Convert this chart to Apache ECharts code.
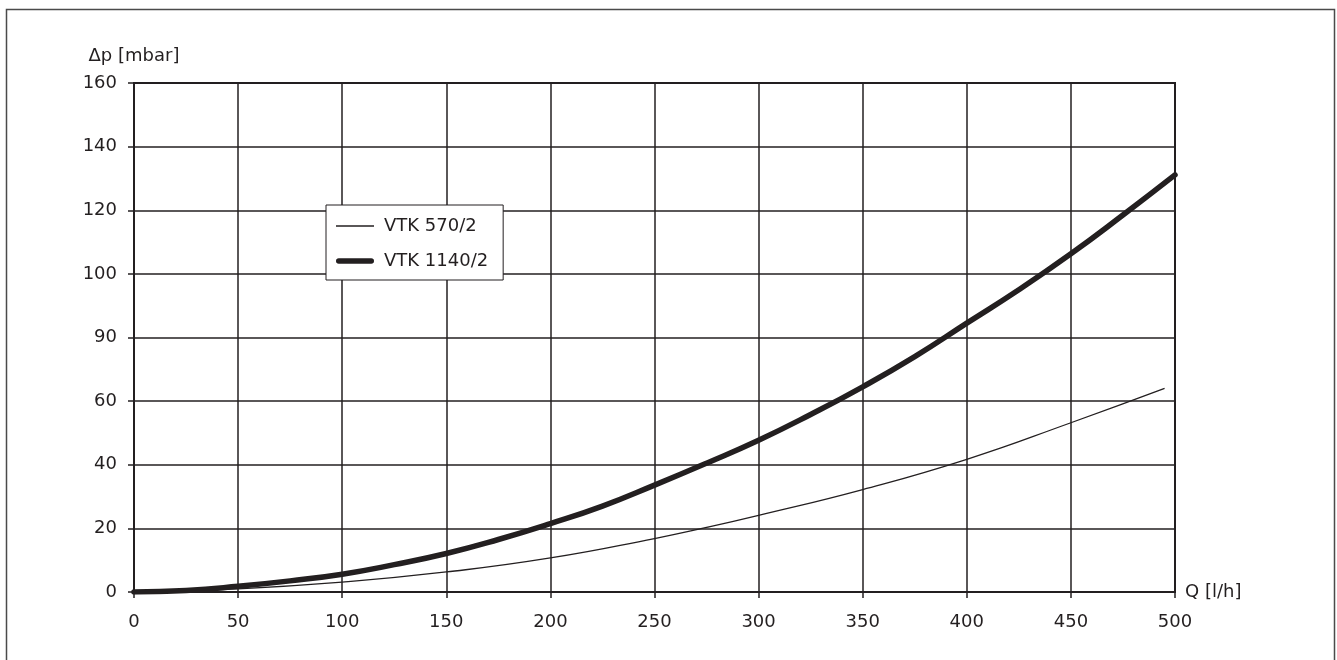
<!DOCTYPE html>
<html>
<head>
<meta charset="utf-8">
<style>
  html, body { margin: 0; padding: 0; background: #fff; }
  #chart { width: 1337px; height: 660px; }
</style>
<script src="https://cdn.jsdelivr.net/npm/echarts@6/dist/echarts.min.js"></script>
</head>
<body>
<div id="chart"></div>
<script>
// Flow rate Q [l/h] and pressure drop Δp [mbar] for the two models
const flowSmall = [0, 50, 100, 150, 200, 250, 275, 300, 350, 400, 450, 495];
const dpSmall   = [0, 1, 3.1, 6.3, 10.7, 16.8, 20.3, 24.1, 32.2, 41.7, 53.2, 64];

const flowLarge = [0, 25, 50, 75, 100, 125, 150, 175, 200, 225, 250, 275, 300, 325, 350, 375, 400, 425, 450, 475, 500];
const dpLarge   = [0, 0.5, 1.8, 3.5, 5.6, 8.6, 12.1, 16.5, 21.5, 27, 33.6, 40.5, 47.7, 55.8, 64.5, 74, 84.5, 95, 106.3, 118.5, 131.1];

const seriesNames = ['VTK 570/2', 'VTK 1140/2'];

// Printed labels of the pressure axis, one per 20-mbar step
const yTickLabels = ['0', '20', '40', '60', '90', '100', '120', '140', '160'];

const ink = '#231f20';
const font = 'DejaVu Sans';
const fs = 18;

const pairs = (xs, ys) => xs.map((x, i) => [x, ys[i]]);

// Legend keys: a hairline and a heavy rounded bar
const thinKey = 'path://M0 0H38V1.3H0Z';
const thickKey = 'path://M2.75 0H35.25A2.75 2.75 0 0 1 35.25 5.5H2.75A2.75 2.75 0 0 1 2.75 0Z';

const chart = echarts.init(document.getElementById('chart'), null, { renderer: 'canvas' });

chart.setOption({
  animation: false,
  backgroundColor: '#fff',
  textStyle: { fontFamily: font, color: ink },
  graphic: [{
    type: 'rect',
    left: 4, top: 7,
    shape: { width: 1328, height: 720 },
    style: { fill: 'none', stroke: '#4a4a4a', lineWidth: 1.5 },
    silent: true,
    z: -1
  }],
  grid: {
    left: 134, right: 162, top: 83, bottom: 68,
    show: true,
    borderColor: ink,
    borderWidth: 2,
    backgroundColor: 'transparent'
  },
  legend: {
    orient: 'vertical',
    left: 326, top: 205,
    padding: [12, 15, 10, 10],
    itemGap: 17,
    itemWidth: 38,
    itemHeight: 20,
    symbolKeepAspect: true,
    backgroundColor: '#fff',
    borderColor: ink,
    borderWidth: 1,
    borderRadius: 0,
    textStyle: { fontFamily: font, fontSize: fs, color: ink, padding: [0, 0, 0, 5] },
    data: [
      { name: seriesNames[0], icon: thinKey },
      { name: seriesNames[1], icon: thickKey }
    ]
  },
  xAxis: {
    type: 'value',
    min: 0, max: 500, interval: 50,
    name: 'Q [l/h]',
    nameLocation: 'end',
    nameGap: 10,
    nameTextStyle: { fontFamily: font, fontSize: fs, color: ink, verticalAlign: 'middle' },
    axisLine: { show: true, onZero: false, lineStyle: { color: ink, width: 2 } },
    axisTick: { show: true, inside: false, length: 6, lineStyle: { color: ink, width: 1.5 } },
    axisLabel: { margin: 21, fontFamily: font, fontSize: fs, color: ink },
    splitLine: { show: true, lineStyle: { color: ink, width: 1.5 } }
  },
  yAxis: {
    type: 'value',
    min: 0, max: 160, interval: 20,
    name: 'Δp [mbar]',
    nameLocation: 'end',
    nameGap: 18,
    nameTextStyle: { fontFamily: font, fontSize: fs, color: ink, align: 'center' },
    axisLine: { show: true, onZero: false, lineStyle: { color: ink, width: 2 } },
    axisTick: { show: true, inside: false, length: 6, lineStyle: { color: ink, width: 1.5 } },
    axisLabel: {
      margin: 17,
      fontFamily: font, fontSize: fs, color: ink,
      formatter: (v) => yTickLabels[Math.round(v / 20)]
    },
    splitLine: { show: true, lineStyle: { color: ink, width: 1.5 } }
  },
  series: [
    {
      name: seriesNames[0],
      type: 'line',
      smooth: 0.5,
      symbol: 'none',
      data: pairs(flowSmall, dpSmall),
      lineStyle: { color: ink, width: 1.3 },
      itemStyle: { color: ink },
      z: 3
    },
    {
      name: seriesNames[1],
      type: 'line',
      smooth: 0.5,
      symbol: 'none',
      data: pairs(flowLarge, dpLarge),
      lineStyle: { color: ink, width: 5.5, cap: 'round' },
      itemStyle: { color: ink },
      z: 4
    }
  ]
});
</script>
</body>
</html>
